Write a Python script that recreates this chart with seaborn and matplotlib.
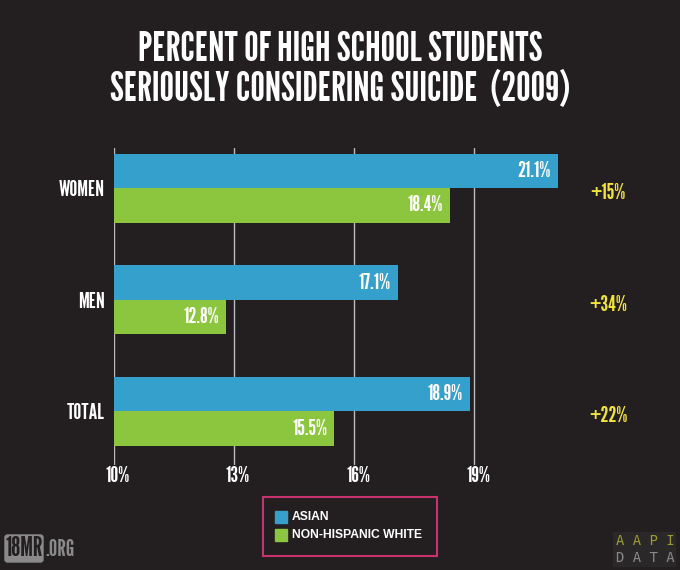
import matplotlib
matplotlib.use("Agg")
import matplotlib.pyplot as plt
import seaborn as sns
import pandas as pd
from matplotlib.patches import Rectangle, FancyBboxPatch
from matplotlib.transforms import ScaledTranslation

groups = ["WOMEN", "MEN", "TOTAL"]
asian = [21.1, 17.1, 18.9]
white = [18.4, 12.8, 15.5]
diffs = ["+15%", "+34%", "+22%"]
ticks = [10, 13, 16, 19]
series = ["ASIAN", "NON-HISPANIC WHITE"]

bg = "#231f20"
blue = "#36a0cd"
green = "#8cc63f"
yellow = "#f2e33b"

data = pd.DataFrame({
    "group": groups * 2,
    "value": asian + white,
    "series": [series[0]] * 3 + [series[1]] * 3,
})

sns.set_style("dark")
cond = ["League Gothic", "Bebas Neue", "DejaVu Sans"]
plt.rcParams["font.family"] = cond

fig = plt.figure(figsize=(6.8, 5.7), dpi=100, facecolor=bg)
ax = fig.add_axes([114 / 680, 105 / 570, 526 / 680, 317 / 570])
ax.set_facecolor(bg)

sns.barplot(data=data, y="group", x="value", hue="series", orient="h",
            palette=[blue, green], width=0.62, saturation=1, ax=ax,
            legend=False, linewidth=0, edgecolor="none")

ax.set_xlim(10, 10 + 526 / 40.0)
ax.set_ylim(2.48, -0.36)
for t in ticks:
    ax.axvline(t, color="#bbbbbb", lw=1, zorder=0)
ax.set_xticks(ticks)
ax.set_xticklabels([f"{t}%" for t in ticks], color="white", fontsize=16)
ax.tick_params(axis="x", length=0, pad=1)
shift = ScaledTranslation(4 / 100, 0, fig.dpi_scale_trans)
for lab in ax.get_xticklabels():
    lab.set_transform(lab.get_transform() + shift)
ax.set_yticks(range(3))
ax.set_yticklabels(groups, color="white", fontsize=16)
ax.tick_params(axis="y", length=0, pad=6.5)
ax.set_xlabel("")
ax.set_ylabel("")
ax.grid(False)
for s in ax.spines.values():
    s.set_visible(False)

for bars in ax.containers:
    for rect, v in zip(bars, bars.datavalues):
        ax.annotate(f"{v:.1f}%", (rect.get_x() + rect.get_width(),
                                  rect.get_y() + rect.get_height() / 2),
                    xytext=(-5, 0), textcoords="offset points",
                    ha="right", va="center", color="white", fontsize=16)

for i, d in enumerate(diffs):
    ax.text(22.35, i + 0.045, d, color=yellow, fontsize=16,
            ha="center", va="center")

fig.text(0.5, 500 / 570, "PERCENT OF HIGH SCHOOL STUDENTS\nSERIOUSLY CONSIDERING SUICIDE  (2009)",
         ha="center", va="center", color="white", fontsize=29.5,
         linespacing=1.07)

# legend box
fig.patches.append(Rectangle((263 / 680, 14 / 570), 174 / 680, 59 / 570,
                             transform=fig.transFigure, fill=False,
                             edgecolor="#c8336f", lw=1.5))
for j, (name, col) in enumerate(zip(series, [blue, green])):
    y = (53 - j * 18) / 570
    fig.patches.append(Rectangle((275 / 680, y - 6 / 570), 12 / 680, 12 / 570,
                                 transform=fig.transFigure, color=col))
    fig.text(292 / 680, y, name, color="white", fontsize=8.7, va="center",
             weight="bold", family=["Liberation Sans", "DejaVu Sans"])

# logos
fig.patches.append(FancyBboxPatch((5 / 680, 8 / 570), 38 / 680, 27 / 570,
                                  boxstyle="round,pad=0,rounding_size=0.004",
                                  transform=fig.transFigure, color="#8a8a8a"))
fig.text(24 / 680, 21 / 570, "18MR", color=bg, fontsize=19,
         ha="center", va="center")
fig.text(45 / 680, 21 / 570, ".ORG", color="#8a8a8a", fontsize=17, va="center")
fig.patches.append(Rectangle((613 / 680, 4 / 570), 62 / 680, 34 / 570,
                             transform=fig.transFigure, color="#2b2829"))
fig.text(645 / 680, 29 / 570, "A A P I", color="#9c9c2e", fontsize=10,
         ha="center", va="center", family=["DejaVu Sans Mono", "DejaVu Sans"])
fig.text(645 / 680, 12 / 570, "D A T A", color="#8a8a8a", fontsize=10,
         ha="center", va="center", family=["DejaVu Sans Mono", "DejaVu Sans"])

fig.savefig("out.png", dpi=100, facecolor=bg)
